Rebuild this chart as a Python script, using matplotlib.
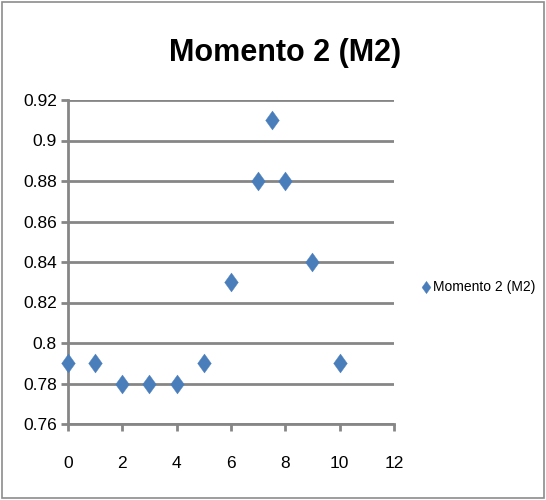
import matplotlib
matplotlib.use("Agg")
import matplotlib.pyplot as plt
from matplotlib.patches import Rectangle
from matplotlib.path import Path

x_vals = [0, 1, 2, 3, 4, 5, 6, 7, 7.5, 8, 9, 10]
y_vals = [0.79, 0.79, 0.78, 0.78, 0.78, 0.79, 0.83, 0.88, 0.91, 0.88, 0.84, 0.79]
series_name = "Momento 2 (M2)"
x_ticks = [0, 2, 4, 6, 8, 10, 12]
y_ticks = [0.76, 0.78, 0.80, 0.82, 0.84, 0.86, 0.88, 0.90, 0.92]
y_labels = ["0.76", "0.78", "0.8", "0.82", "0.84", "0.86", "0.88", "0.9", "0.92"]

FONT = ["Liberation Sans", "DejaVu Sans"]
GRID = "#868686"
BLUE = "#4a7ebb"

# Excel-style diamond, a bit wider than matplotlib's thin diamond
DIAMOND = Path([(0, 1), (0.72, 0), (0, -1), (-0.72, 0), (0, 1)],
               [Path.MOVETO, Path.LINETO, Path.LINETO, Path.LINETO, Path.CLOSEPOLY])

fig = plt.figure(figsize=(5.46, 5.0), dpi=100)
fig.patches.append(Rectangle((0.004, 0.004), 0.992, 0.992, transform=fig.transFigure,
                             fill=False, edgecolor="#8c8c8c", linewidth=1.2))

ax = fig.add_axes([0.1245, 0.152, 0.597, 0.648])
ax.scatter(x_vals, y_vals, marker=DIAMOND, s=185, color=BLUE, edgecolor=BLUE,
           linewidth=0.3, zorder=3, clip_on=False, label=series_name)

ax.set_xlim(0, 12)
ax.set_ylim(0.76, 0.92)
ax.set_xticks(x_ticks)
ax.set_yticks(y_ticks)
ax.set_yticklabels(y_labels)
ax.grid(axis="y", color=GRID, linewidth=2)
ax.set_axisbelow(True)

for side in ["top", "right"]:
    ax.spines[side].set_visible(False)
for side in ["left", "bottom"]:
    ax.spines[side].set_color(GRID)
    ax.spines[side].set_linewidth(2)

ax.tick_params(axis="both", colors=GRID, width=2, length=5, labelcolor="black",
               labelsize=12.5)
ax.tick_params(axis="x", pad=18)
ax.tick_params(axis="y", pad=3)
for lab in ax.get_xticklabels() + ax.get_yticklabels():
    lab.set_family(FONT)

fig.text(0.523, 0.895, series_name, ha="center", va="center", fontsize=22,
         fontweight="bold", family=FONT)

leg = fig.legend(loc="center left", bbox_to_anchor=(0.748, 0.426), frameon=False,
                 handletextpad=0.05, prop={"family": FONT, "size": 10},
                 handlelength=0.8, markerscale=0.65)

fig.savefig("out.png", dpi=100)
